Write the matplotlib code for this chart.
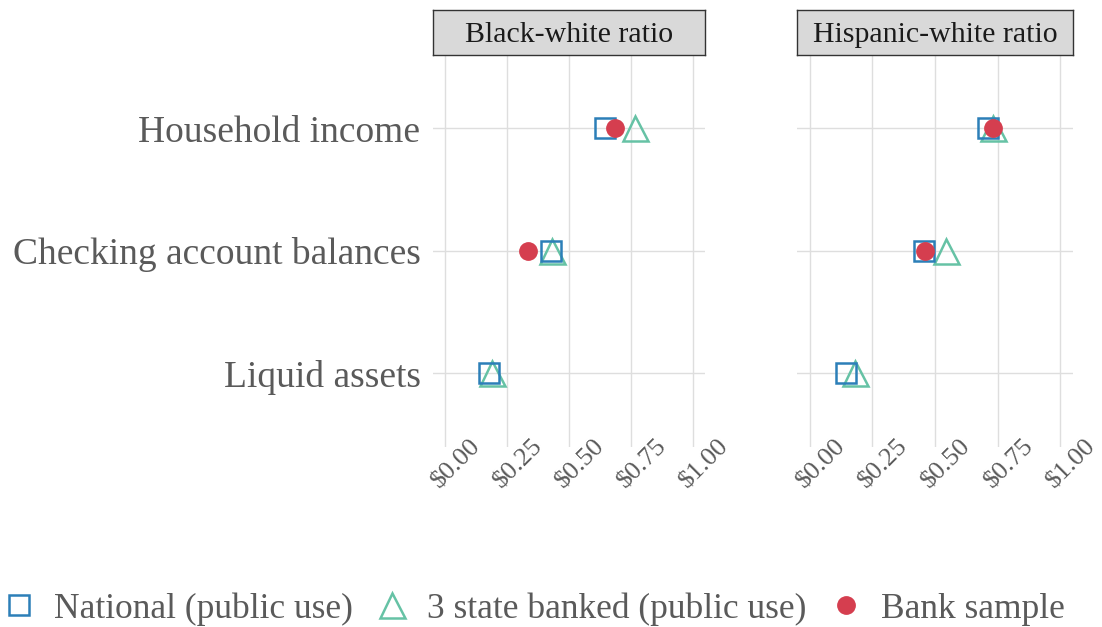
import matplotlib
matplotlib.use("Agg")
import matplotlib.pyplot as plt
from matplotlib.lines import Line2D
from matplotlib.transforms import ScaledTranslation

categories = ["Household income", "Checking account balances", "Liquid assets"]
panels = ["Black-white ratio", "Hispanic-white ratio"]
series = ["National (public use)", "3 state banked (public use)", "Bank sample"]

# values per panel, per category (order as in categories)
national = {"Black-white ratio": [0.646, 0.429, 0.178],
            "Hispanic-white ratio": [0.711, 0.455, 0.145]}
state3 = {"Black-white ratio": [0.766, 0.433, 0.190],
          "Hispanic-white ratio": [0.731, 0.542, 0.181]}
bank = {"Black-white ratio": [0.686, 0.335, None],
        "Hispanic-white ratio": [0.731, 0.462, None]}

xticks = [0, 0.25, 0.5, 0.75, 1.0]
xticklabels = ["$0.00", "$0.25", "$0.50", "$0.75", "$1.00"]

plt.rcParams['font.family'] = ['Liberation Serif', 'DejaVu Serif']
TXT = "#5a5a5a"
C_SQ = "#2c7fb8"
C_TR = "#66c2a5"
C_CI = "#d53e4f"
GRID = "#dedede"

fig = plt.figure(figsize=(11.02, 6.27), dpi=100)
W, H = 1102, 627
axes_px = [(433, 705), (797, 1073)]
top_px, bot_px = 54.7, 447
strip_top = 10

ypos = [3, 2, 1]

for i, (panel, (x0, x1)) in enumerate(zip(panels, axes_px)):
    ax = fig.add_axes([x0 / W, 1 - bot_px / H, (x1 - x0) / W, (bot_px - top_px) / H])
    ax.set_xlim(-0.05, 1.05)
    ax.set_ylim(0.4, 3.6)
    for s in ax.spines.values():
        s.set_visible(False)
    ax.set_xticks(xticks)
    ax.set_yticks(ypos)
    ax.grid(True, color=GRID, linewidth=1.0)
    ax.set_axisbelow(True)
    ax.tick_params(length=0, colors=TXT)
    ax.set_xticklabels(xticklabels, rotation=45, ha="center", va="center",
                       rotation_mode="anchor", fontsize=19, color=TXT)
    ax.tick_params(axis="x", pad=12)
    off = ScaledTranslation(0.115, 0.0, fig.dpi_scale_trans)
    for lab in ax.get_xticklabels():
        lab.set_transform(lab.get_transform() + off)
    if i == 0:
        ax.set_yticklabels(categories, fontsize=27, color=TXT)
        ax.tick_params(axis="y", pad=9)
    else:
        ax.set_yticklabels([])

    ax.plot(state3[panel], ypos, linestyle="none", marker="^", markersize=18,
            markerfacecolor="none", markeredgecolor=C_TR, markeredgewidth=1.8, zorder=3)
    ax.plot(national[panel], ypos, linestyle="none", marker="s", markersize=14,
            markerfacecolor="none", markeredgecolor=C_SQ, markeredgewidth=1.8, zorder=4)
    bx = [v for v in bank[panel] if v is not None]
    by = [y for v, y in zip(bank[panel], ypos) if v is not None]
    ax.plot(bx, by, linestyle="none", marker="o", markersize=12.5,
            markerfacecolor=C_CI, markeredgecolor=C_CI, zorder=5)

    sax = fig.add_axes([x0 / W, 1 - top_px / H, (x1 - x0) / W, (top_px - strip_top) / H])
    sax.set_facecolor("#d9d9d9")
    sax.set_xticks([]); sax.set_yticks([])
    for s in sax.spines.values():
        s.set_color("#333333"); s.set_linewidth(1.0)
    sax.text(0.5, 0.45, panel, ha="center", va="center", fontsize=21.5, color="#1a1a1a",
             transform=sax.transAxes)

handles = [
    Line2D([], [], linestyle="none", marker="s", markersize=14, markerfacecolor="none",
           markeredgecolor=C_SQ, markeredgewidth=1.8),
    Line2D([], [], linestyle="none", marker="^", markersize=18, markerfacecolor="none",
           markeredgecolor=C_TR, markeredgewidth=1.8),
    Line2D([], [], linestyle="none", marker="o", markersize=12.5, markerfacecolor=C_CI,
           markeredgecolor=C_CI),
]
leg = fig.legend(handles, series, loc="center", bbox_to_anchor=(0.4835, 1 - 609 / H), ncol=3,
                 frameon=False, fontsize=25.5, handletextpad=0.5, columnspacing=0.6,
                 handlelength=1.0)
for t in leg.get_texts():
    t.set_color(TXT)

fig.savefig("out.png", dpi=100)
